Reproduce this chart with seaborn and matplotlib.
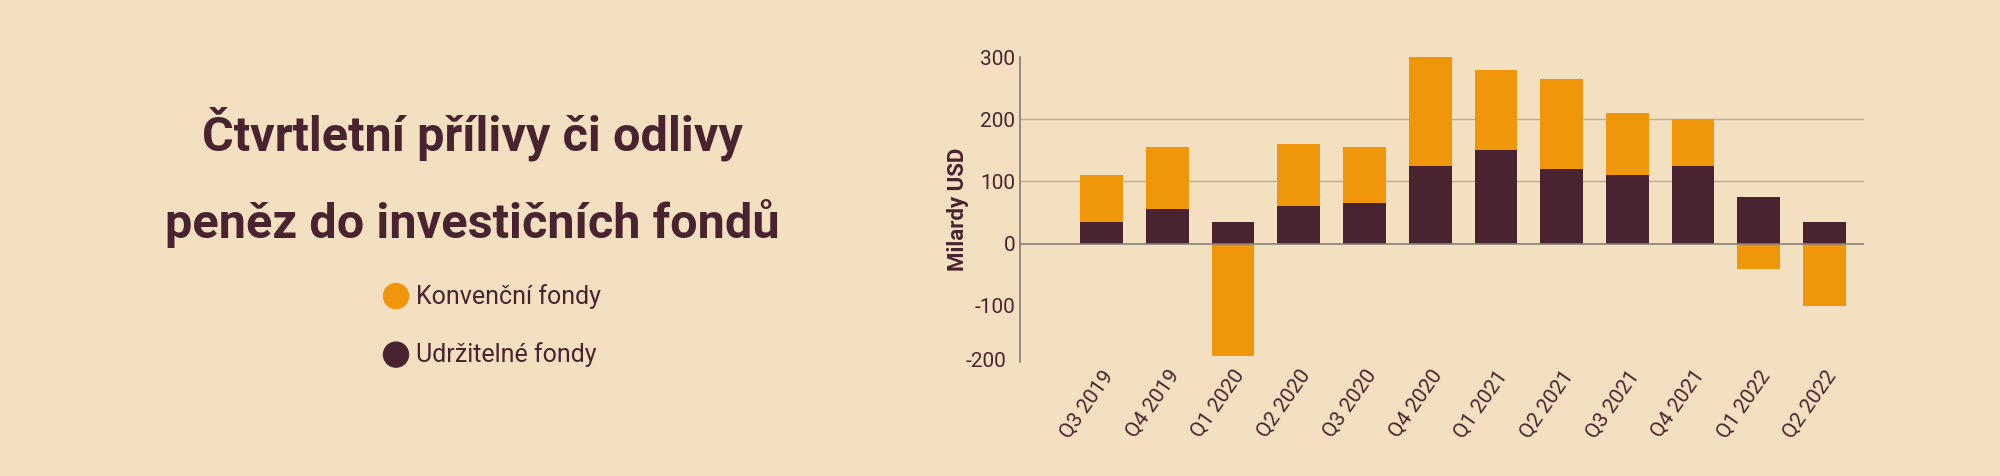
import matplotlib
matplotlib.use("Agg")
import matplotlib.pyplot as plt
import seaborn as sns
import pandas as pd
import numpy as np

quarters = ["Q3 2019","Q4 2019","Q1 2020","Q2 2020","Q3 2020","Q4 2020",
            "Q1 2021","Q2 2021","Q3 2021","Q4 2021","Q1 2022","Q2 2022"]
sustainable = [35, 55, 35, 60, 65, 125, 150, 120, 110, 125, 75, 35]
conventional = [75, 100, -180, 100, 90, 175, 130, 145, 100, 75, -40, -100]
yticks = [-200, -100, 0, 100, 200, 300]

BG = "#F3E0C0"
ORANGE = "#F0960A"
DARK = "#4A2330"

sns.set_theme(style="white")
plt.rcParams['font.family'] = ['Roboto', 'DejaVu Sans']

fig = plt.figure(figsize=(20, 4.76), dpi=100, facecolor=BG)
ax = fig.add_axes([0.51, 0.24, 0.422, 0.64], facecolor=BG)

conv_bottom = [s if c > 0 else 0 for s, c in zip(sustainable, conventional)]
df = pd.DataFrame({"q": quarters, "s": sustainable, "c": conventional})
x = np.arange(len(quarters))
ax.bar(x, conventional, bottom=conv_bottom, width=0.65, color=ORANGE, zorder=3, linewidth=0)
sns.barplot(data=df, x="q", y="s", color=DARK, width=0.65, ax=ax, zorder=3,
            saturation=1, linewidth=0, edgecolor="none")

ax.set_ylim(-190, 300)
ax.set_yticks(yticks[1:], labels=[str(v) for v in yticks[1:]])
ax.set_xlim(-1.24, 11.6)
ax.text(-1.45, -190, "-200", ha="right", va="center", fontsize=15, color=DARK)
for v in [100, 200]:
    ax.axhline(v, color="#B8AFA4", lw=1, zorder=1)
ax.axhline(0, color="#8A7F78", lw=1.2, zorder=4)
for s in ["top", "right", "bottom"]:
    ax.spines[s].set_visible(False)
ax.spines["left"].set_color("#8A7F78")
ax.tick_params(axis="y", labelsize=15, colors=DARK, length=0)
ax.tick_params(axis="x", labelsize=15, colors=DARK, length=0)
plt.setp(ax.get_xticklabels(), rotation=55, ha="right", rotation_mode="anchor")
ax.set_xlabel("")
ax.set_ylabel("Milardy USD", fontsize=16, fontweight="bold", color=DARK)

fig.text(0.236, 0.72, "Čtvrtletní přílivy či odlivy", ha="center", va="center",
         fontsize=35, fontweight="bold", color=DARK)
fig.text(0.236, 0.53, "peněz do investičních fondů", ha="center", va="center",
         fontsize=35, fontweight="bold", color=DARK)
for yy, col, lab in [(0.378, ORANGE, "Konvenční fondy"), (0.255, DARK, "Udržitelné fondy")]:
    fig.patches.append(matplotlib.patches.Ellipse((0.198, yy), 0.0125, 0.0525,
                       transform=fig.transFigure, color=col))
    fig.text(0.208, yy, lab, ha="left", va="center", fontsize=18, color=DARK)

fig.savefig("out.png", facecolor=BG)
